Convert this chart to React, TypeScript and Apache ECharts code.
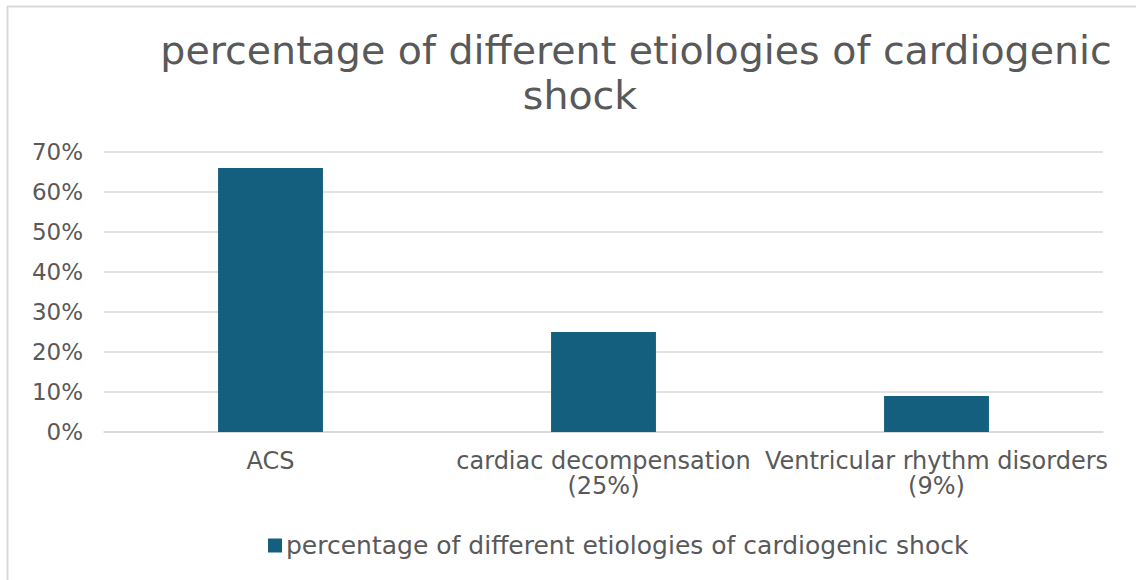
import React, { useEffect, useRef } from "react";
import * as echarts from "echarts";

const titleLines = ["percentage of different etiologies of cardiogenic", "shock"];
const seriesName = "percentage of different etiologies of cardiogenic shock";
const categories = ["ACS", "cardiac decompensation\n(25%)", "Ventricular rhythm disorders\n(9%)"];
const values = [66, 25, 9];
const yTicks = { min: 0, max: 70, interval: 10 };

const FONT = "DejaVu Sans";
const GREY = "#595959";
const BAR = "#155f7e";

export default function App() {
  const ref = useRef<HTMLDivElement>(null);
  useEffect(() => {
    if (!ref.current) return;
    const chart = echarts.init(ref.current, null, { renderer: "svg" });
    chart.setOption({
      animation: false,
      backgroundColor: "#ffffff",
      textStyle: { fontFamily: FONT },
      graphic: [
        { type: "line", shape: { x1: 7, y1: 6.5, x2: 1136, y2: 6.5 }, style: { stroke: "#d9d9d9", lineWidth: 2 }, silent: true },
        { type: "line", shape: { x1: 7.5, y1: 6, x2: 7.5, y2: 580 }, style: { stroke: "#d9d9d9", lineWidth: 2 }, silent: true },
        {
          type: "text", x: 636, y: 50,
          style: { text: titleLines[0], fill: GREY, font: `39.5px "${FONT}"`, textAlign: "center", textVerticalAlign: "middle" },
        },
        {
          type: "text", x: 580, y: 95,
          style: { text: titleLines[1], fill: GREY, font: `39.5px "${FONT}"`, textAlign: "center", textVerticalAlign: "middle" },
        },
      ],
      grid: { left: 104, right: 33, top: 152, bottom: 148, containLabel: false },
      legend: {
        left: 263, top: 528,
        itemWidth: 14, itemHeight: 14, itemGap: 10,
        icon: "rect",
        textStyle: { color: GREY, fontSize: 25, fontFamily: FONT, padding: [0, 0, 0, -1] },
        data: [seriesName],
      },
      xAxis: {
        type: "category",
        data: categories,
        axisLine: { show: true, lineStyle: { color: "#d9d9d9", width: 1.5 } },
        axisTick: { show: false },
        axisLabel: { interval: 0, color: GREY, fontSize: 24, fontFamily: FONT, lineHeight: 25, margin: 16 },
      },
      yAxis: {
        type: "value",
        min: yTicks.min, max: yTicks.max, interval: yTicks.interval,
        axisLine: { show: false },
        axisTick: { show: false },
        splitLine: { lineStyle: { color: "#d9d9d9", width: 1.5 } },
        axisLabel: { color: GREY, fontSize: 23, fontFamily: FONT, margin: 21, formatter: "{value}%" },
      },
      series: [
        {
          name: seriesName,
          type: "bar",
          data: values,
          barWidth: "31.5%",
          itemStyle: { color: BAR },
        },
      ],
    });
    return () => chart.dispose();
  }, []);
  return <div ref={ref} style={{ position: "fixed", left: 0, top: 0, width: 1136, height: 580 }} />;
}
